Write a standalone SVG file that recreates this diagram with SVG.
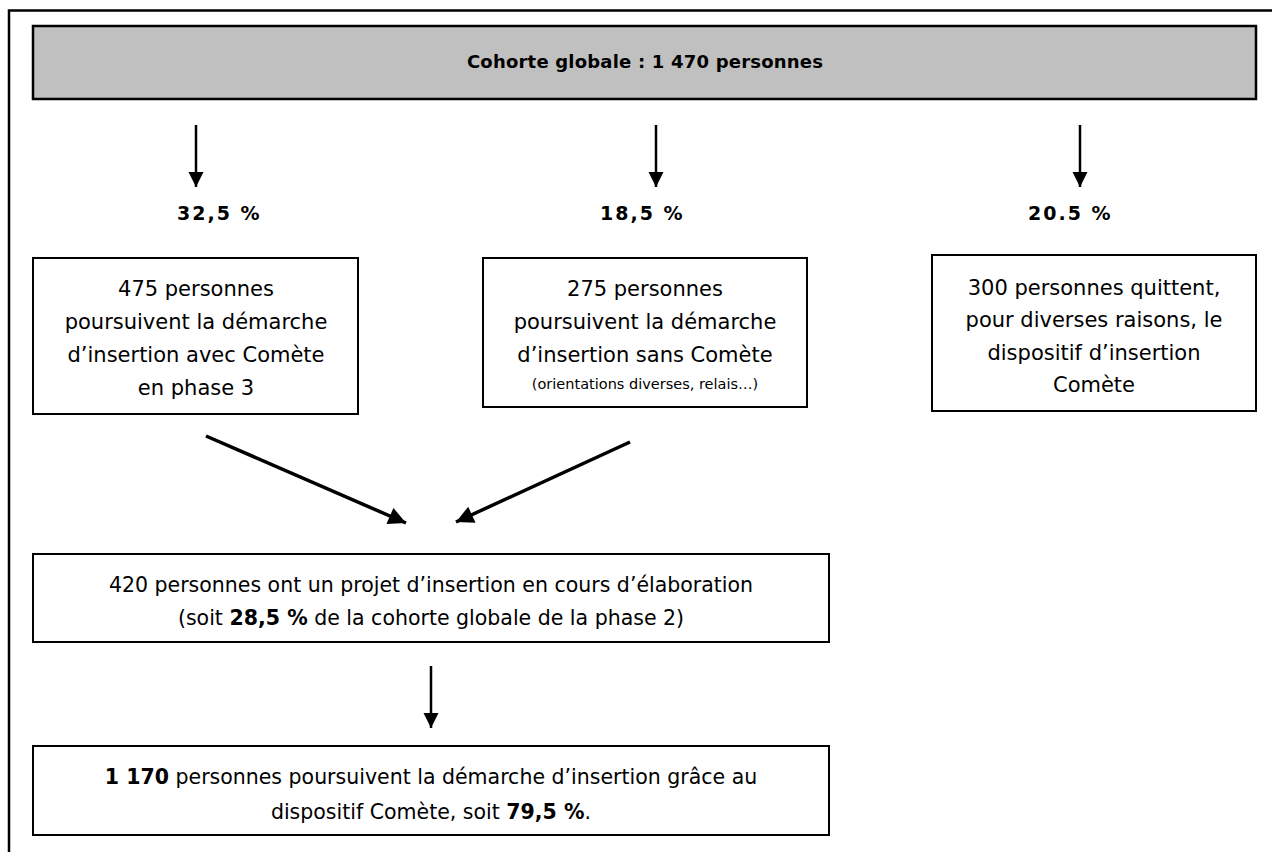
<svg xmlns="http://www.w3.org/2000/svg" width="1272" height="852" viewBox="0 0 1272 852">
<defs>
<style>
.box{fill:#fff;stroke:#000;stroke-width:2}
.hdr{fill:#c0c0c0;stroke:#000;stroke-width:2.5}
.t{font-family:"DejaVu Sans",sans-serif;font-size:21px;fill:#000;text-anchor:middle}
.m{font-size:20.5px}
.s{font-size:14.5px}
.b{font-family:"DejaVu Sans",sans-serif;font-weight:bold;font-size:18px;fill:#000}
.p{font-size:19px;letter-spacing:2px}
.bb{font-weight:bold}
.ln{stroke:#000;stroke-width:2.5;fill:none}
.dg{stroke:#000;stroke-width:3.5;fill:none}
</style>
<marker id="ah" viewBox="0 0 10 10" refX="10" refY="5" markerWidth="6" markerHeight="6.4" markerUnits="strokeWidth" orient="auto">
<path d="M0,0 L10,5 L0,10 z" fill="#000"/>
</marker>
<marker id="ah2" viewBox="0 0 10 10" refX="10" refY="5" markerWidth="5.5" markerHeight="5" markerUnits="strokeWidth" orient="auto">
<path d="M0,0 L10,5 L0,10 z" fill="#000"/>
</marker>
</defs>
<rect width="1272" height="852" fill="#fff"/>
<g id="frame"><path d="M9,852 V10.5 H1272" class="ln" stroke-width="2"/></g>

<g id="header">
<rect class="hdr" x="33" y="26" width="1223" height="73"/>
<text class="b" x="645" y="68" text-anchor="middle" letter-spacing="0.2" font-size="18.2">Cohorte globale : 1 470 personnes</text>
</g>

<g id="connectors">
<line class="ln" x1="196" y1="125" x2="196" y2="187" marker-end="url(#ah)"/>
<line class="ln" x1="656" y1="125" x2="656" y2="187" marker-end="url(#ah)"/>
<line class="ln" x1="1080" y1="125" x2="1080" y2="187" marker-end="url(#ah)"/>
<line class="dg" x1="206" y1="436" x2="406" y2="523" marker-end="url(#ah2)"/>
<line class="dg" x1="630" y1="442" x2="456" y2="522" marker-end="url(#ah2)"/>
<line class="ln" x1="431" y1="666" x2="431" y2="728" marker-end="url(#ah)"/>
</g>

<g id="pct1"><text class="b p" x="177" y="220">32,5 %</text></g>
<g id="pct2"><text class="b p" x="600" y="220">18,5 %</text></g>
<g id="pct3"><text class="b p" x="1028" y="220">20.5 %</text></g>

<g id="box1">
<rect class="box" x="33" y="258" width="325" height="156"/>
<text class="t" x="196" y="296">475 personnes</text>
<text class="t" x="196" y="329">poursuivent la démarche</text>
<text class="t" x="196" y="362">d’insertion avec Comète</text>
<text class="t" x="196" y="395">en phase 3</text>
</g>

<g id="box2">
<rect class="box" x="483" y="258" width="324" height="149"/>
<text class="t" x="645" y="296">275 personnes</text>
<text class="t" x="645" y="329">poursuivent la démarche</text>
<text class="t" x="645" y="362">d’insertion sans Comète</text>
<text class="t s" x="645" y="389">(orientations diverses, relais…)</text>
</g>

<g id="box3">
<rect class="box" x="932" y="255" width="324" height="156"/>
<text class="t" x="1094" y="295">300 personnes quittent,</text>
<text class="t" x="1094" y="327">pour diverses raisons, le</text>
<text class="t" x="1094" y="360">dispositif d’insertion</text>
<text class="t" x="1094" y="392">Comète</text>
</g>

<g id="box4">
<rect class="box" x="33" y="554" width="796" height="88"/>
<text class="t m" x="431" y="592">420 personnes ont un projet d’insertion en cours d’élaboration</text>
<text class="t m" x="431" y="625">(soit <tspan class="bb">28,5 %</tspan> de la cohorte globale de la phase 2)</text>
</g>

<g id="box5">
<rect class="box" x="33" y="746" width="796" height="89"/>
<text class="t m" x="431" y="784"><tspan class="bb">1 170</tspan> personnes poursuivent la démarche d’insertion grâce au</text>
<text class="t m" x="431" y="819">dispositif Comète, soit <tspan class="bb">79,5 %</tspan>.</text>
</g>
</svg>
